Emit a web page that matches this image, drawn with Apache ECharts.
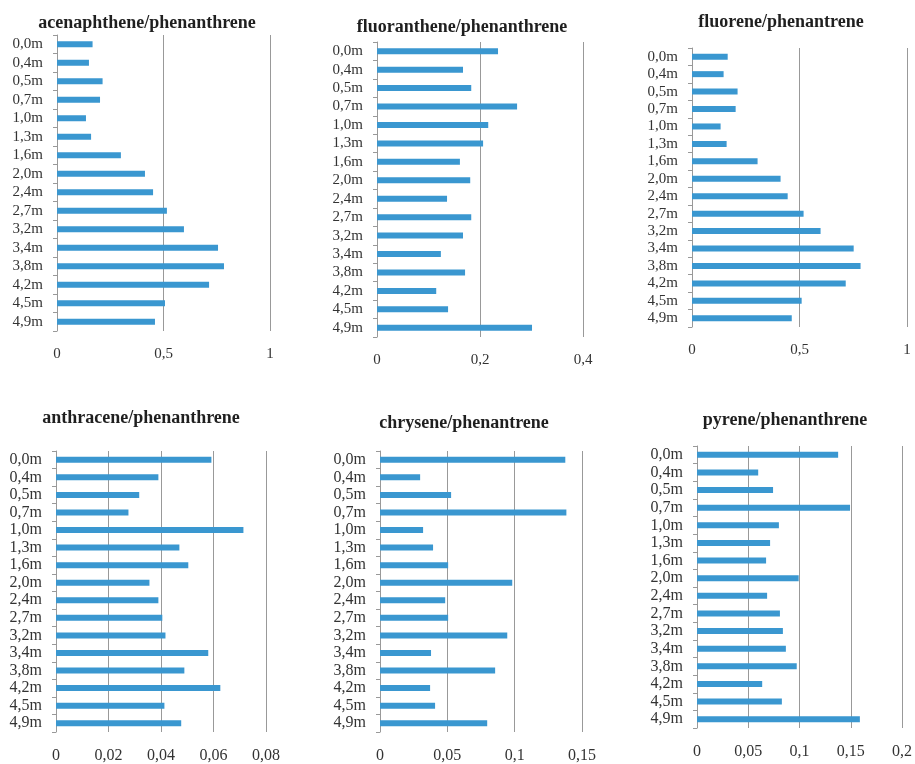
<!DOCTYPE html>
<html>
<head>
<meta charset="utf-8">
<title>PAH ratios by depth</title>
<script src="https://cdn.jsdelivr.net/npm/echarts@6/dist/echarts.min.js"></script>
<style>
  html, body { margin: 0; padding: 0; background: #ffffff; }
  #chart { width: 915px; height: 764px; }
</style>
</head>
<body>
<div id="chart"></div>
<script>
// Sampling depths (top of core first)
const depths = ['0,0m', '0,4m', '0,5m', '0,7m', '1,0m', '1,3m', '1,6m', '2,0m',
                '2,4m', '2,7m', '3,2m', '3,4m', '3,8m', '4,2m', '4,5m', '4,9m'];

// Diagnostic ratios per depth
const acenaphtheneRatio = [0.167, 0.150, 0.214, 0.202, 0.136, 0.160, 0.300, 0.413,
                           0.451, 0.516, 0.596, 0.756, 0.784, 0.714, 0.507, 0.460];
const fluorantheneRatio = [0.235, 0.167, 0.183, 0.272, 0.216, 0.206, 0.161, 0.181,
                           0.136, 0.183, 0.167, 0.124, 0.171, 0.115, 0.138, 0.301];
const fluoreneRatio     = [0.166, 0.147, 0.212, 0.203, 0.133, 0.161, 0.305, 0.412,
                           0.445, 0.519, 0.598, 0.752, 0.784, 0.715, 0.510, 0.464];
const anthraceneRatio   = [0.0592, 0.0390, 0.0317, 0.0276, 0.0714, 0.0470, 0.0504, 0.0356,
                           0.0390, 0.0405, 0.0417, 0.0580, 0.0489, 0.0626, 0.0413, 0.0477];
const chryseneRatio     = [0.1376, 0.0298, 0.0528, 0.1384, 0.0320, 0.0394, 0.0506, 0.0982,
                           0.0484, 0.0506, 0.0945, 0.0379, 0.0855, 0.0372, 0.0409, 0.0796];
const pyreneRatio       = [0.1377, 0.0597, 0.0742, 0.1493, 0.0799, 0.0713, 0.0674, 0.0992,
                           0.0684, 0.0809, 0.0838, 0.0867, 0.0973, 0.0636, 0.0828, 0.1589];

// Panel titles
const panelTitles = ['acenaphthene/phenanthrene', 'fluoranthene/phenanthrene', 'fluorene/phenantrene',
                     'anthracene/phenanthrene', 'chrysene/phenantrene', 'pyrene/phenanthrene'];

// Value-axis ranges: [max, step]
const axisRanges = [[1, 0.5], [0.4, 0.2], [1, 0.5], [0.08, 0.02], [0.15, 0.05], [0.2, 0.05]];

const panelData = [acenaphtheneRatio, fluorantheneRatio, fluoreneRatio,
                   anthraceneRatio, chryseneRatio, pyreneRatio];

// Layout of each small chart
const layout = [
  { left: 57,  top: 35,  width: 213, height: 296, titleX: 147, titleY: 14, font: 15 },
  { left: 377, top: 42,  width: 206, height: 295, titleX: 462, titleY: 18, font: 15 },
  { left: 692, top: 48,  width: 215, height: 279, titleX: 781, titleY: 13, font: 15 },
  { left: 56,  top: 451, width: 210, height: 283, titleX: 141, titleY: 409, font: 16 },
  { left: 380, top: 451, width: 202, height: 284, titleX: 464, titleY: 414, font: 16 },
  { left: 697, top: 446, width: 208, height: 282, titleX: 785, titleY: 411, font: 16 }
];

const serif = 'Liberation Serif';
const gray = '#999999';
const barColor = '#3a97d0';

const fmt = v => String(+v.toFixed(4)).replace('.', ',');

const option = {
  backgroundColor: '#ffffff',
  animation: false,
  title: [],
  grid: [],
  xAxis: [],
  yAxis: [],
  series: []
};

panelData.forEach((values, i) => {
  const L = layout[i];
  option.title.push({
    text: panelTitles[i],
    left: L.titleX,
    top: L.titleY,
    textAlign: 'center',
    padding: 0,
    textStyle: { fontFamily: serif, fontWeight: 'bold', fontSize: 18, color: '#1f1f1f' }
  });
  option.grid.push({ left: L.left, top: L.top, width: L.width, height: L.height });
  option.xAxis.push({
    type: 'value',
    gridIndex: i,
    min: 0,
    max: axisRanges[i][0],
    interval: axisRanges[i][1],
    axisLine: { show: false },
    axisTick: { show: false },
    splitLine: { show: true, lineStyle: { color: gray, width: 1 } },
    axisLabel: {
      margin: 16,
      fontFamily: serif,
      fontSize: L.font,
      color: '#333333',
      formatter: fmt
    }
  });
  option.yAxis.push({
    type: 'category',
    gridIndex: i,
    data: depths,
    inverse: true,
    axisLine: { show: true, lineStyle: { color: gray, width: 1 } },
    axisTick: { show: true, length: 4, lineStyle: { color: gray } },
    splitLine: { show: false },
    axisLabel: {
      margin: 14,
      fontFamily: serif,
      fontSize: L.font,
      color: '#333333',
      interval: 0
    }
  });
  option.series.push({
    type: 'bar',
    xAxisIndex: i,
    yAxisIndex: i,
    data: values,
    barWidth: 6,
    itemStyle: { color: barColor },
    silent: true
  });
});

const chart = echarts.init(document.getElementById('chart'), null, { renderer: 'canvas' });
chart.setOption(option);
</script>
</body>
</html>
